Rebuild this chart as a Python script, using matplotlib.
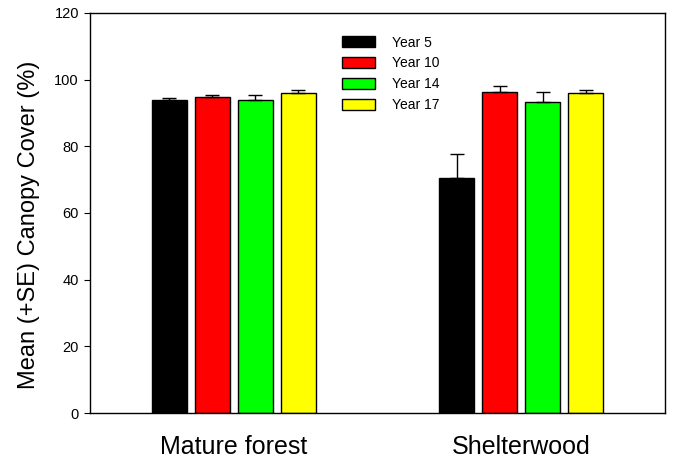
import matplotlib.pyplot as plt
import numpy as np

plt.rcParams['font.family'] = ['Liberation Sans', 'DejaVu Sans']

# Data
groups = ['Mature forest', 'Shelterwood']
years = ['Year 5', 'Year 10', 'Year 14', 'Year 17']
colors = ['#000000', '#ff0000', '#00ff00', '#ffff00']
means = [
    [93.9, 70.4],   # Year 5
    [94.9, 96.3],   # Year 10
    [93.9, 93.3],   # Year 14
    [95.9, 96.0],   # Year 17
]
se = [
    [0.6, 7.2],
    [0.6, 1.7],
    [1.4, 3.1],
    [1.1, 0.9],
]

fig = plt.figure(figsize=(6.74, 4.61), dpi=100)
ax = fig.add_axes([90 / 674, 1 - 413 / 461, 575 / 674, 400 / 461])

x = np.arange(len(groups))
width = 0.122
offsets = [-0.225, -0.075, 0.075, 0.225]

for i, year in enumerate(years):
    ax.bar(x + offsets[i], means[i], width, color=colors[i], edgecolor='black',
           linewidth=1, label=year, zorder=2)
    ax.errorbar(x + offsets[i], means[i], yerr=[np.zeros(len(groups)), se[i]],
                fmt='none', ecolor='black', elinewidth=1, capsize=5, capthick=1,
                zorder=3)

ax.set_xlim(-0.5, 1.5)
ax.set_ylim(0, 120)
ax.set_yticks(range(0, 121, 20))
ax.set_xticks(x)
ax.set_xticklabels(groups, fontsize=18)
ax.tick_params(axis='x', length=0, pad=16)
ax.tick_params(axis='y', labelsize=10.5, length=4.5, direction='out')
ax.set_ylabel('Mean (+SE) Canopy Cover (%)', fontsize=17)
ax.yaxis.set_label_coords(-0.087, 0.47)

for spine in ax.spines.values():
    spine.set_linewidth(1)

ax.legend(loc='upper left', bbox_to_anchor=(0.416, 0.975), frameon=False,
          fontsize=10, handlelength=2.4, handleheight=0.9, handletextpad=1.2,
          labelspacing=0.5)

fig.savefig('out.png', dpi=100)
